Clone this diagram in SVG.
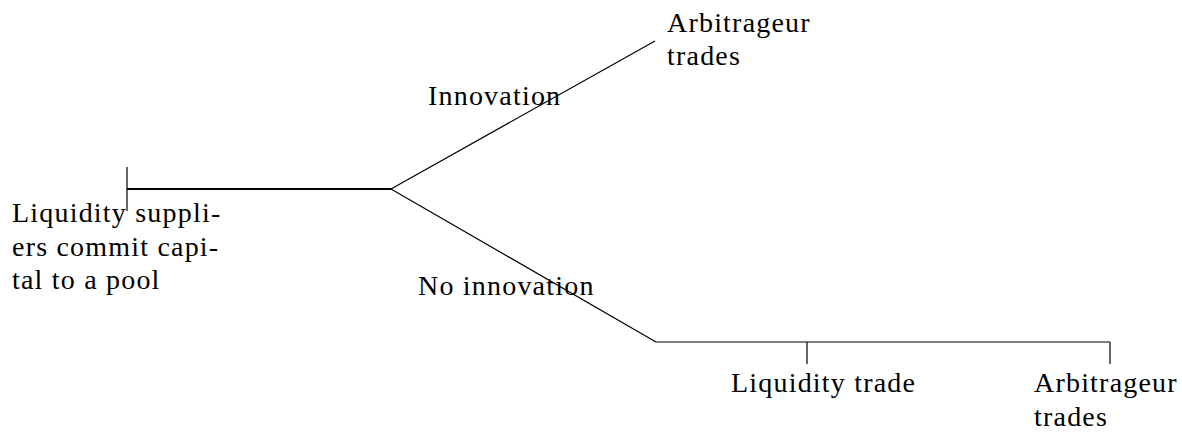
<svg xmlns="http://www.w3.org/2000/svg" width="1182" height="432" viewBox="0 0 1182 432">
<style>
.t{font-family:"Liberation Serif","Times New Roman",serif;font-size:28px;letter-spacing:1.2px;fill:#000}
.l{stroke:#000;stroke-width:1.2;fill:none}
.b{stroke:#000;stroke-width:2;fill:none}
</style>
<rect width="1182" height="432" fill="#fff"/>
<g id="connectors">
<line class="l" x1="127" y1="167" x2="127" y2="211"/>
<line class="b" x1="127" y1="189" x2="391" y2="189"/>
<line class="l" x1="391" y1="189" x2="655" y2="41"/>
<line class="l" x1="391" y1="189" x2="656" y2="342"/>
<line class="l" x1="656" y1="342" x2="1110" y2="342"/>
<line class="l" x1="807" y1="342" x2="807" y2="364"/>
<line class="l" x1="1110" y1="342" x2="1110" y2="364"/>
</g>
<g id="start">
<text class="t" x="12" y="222">Liquidity suppli-</text>
<text class="t" x="12" y="255.5">ers commit capi-</text>
<text class="t" x="12" y="289">tal to a pool</text>
</g>
<g id="arb-top">
<text class="t" x="667" y="31.5">Arbitrageur</text>
<text class="t" x="667" y="65">trades</text>
</g>
<g id="label-innovation"><text class="t" x="428" y="105">Innovation</text></g>
<g id="label-no-innovation"><text class="t" x="418" y="295">No innovation</text></g>
<g id="liquidity-trade"><text class="t" x="731" y="392">Liquidity trade</text></g>
<g id="arb-bottom">
<text class="t" x="1034" y="392">Arbitrageur</text>
<text class="t" x="1034" y="425.5">trades</text>
</g>
</svg>
